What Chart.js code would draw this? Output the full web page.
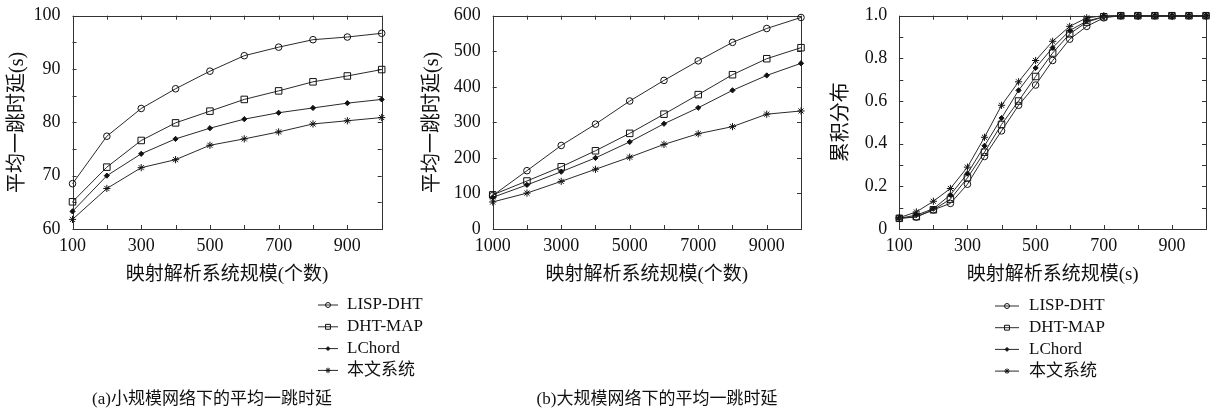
<!DOCTYPE html>
<html>
<head>
<meta charset="utf-8">
<script src="https://cdn.jsdelivr.net/npm/chart.js@4.4.1/dist/chart.umd.min.js"></script>
<style>
body { margin: 0; background: #fff; width: 1212px; height: 411px; position: relative; overflow: hidden; }
canvas { position: absolute; top: 0; }
</style>
</head>
<body>
<canvas id="chart-small" width="425" height="411" style="left:0px"></canvas>
<canvas id="chart-large" width="406" height="411" style="left:415px"></canvas>
<canvas id="chart-cdf" width="388" height="411" style="left:824px"></canvas>
<script>
var FONT = "'Liberation Serif', 'Noto Sans CJK SC', serif";

var seriesNames = ["LISP-DHT", "DHT-MAP", "LChord", "本文系统"];

// (a) small networks
var smallX = [100, 200, 300, 400, 500, 600, 700, 800, 900, 1000];
var smallLisp = [68.5, 77.4, 82.6, 86.3, 89.6, 92.5, 94.1, 95.5, 96.0, 96.7];
var smallMap = [65.1, 71.6, 76.6, 79.9, 82.1, 84.3, 85.9, 87.6, 88.7, 89.9];
var smallLchord = [63.3, 70.0, 74.1, 76.9, 78.9, 80.6, 81.8, 82.7, 83.6, 84.3];
var smallOurs = [61.8, 67.6, 71.5, 73.0, 75.7, 76.9, 78.2, 79.7, 80.3, 80.9];

// (b) large networks
var largeX = [1000, 2000, 3000, 4000, 5000, 6000, 7000, 8000, 9000, 10000];
var largeLisp = [94, 164, 235, 295, 360, 418, 473, 525, 564, 595];
var largeMap = [96, 135, 175, 220, 269, 323, 378, 434, 479, 510];
var largeLchord = [89, 124, 161, 200, 245, 296, 341, 390, 432, 466];
var largeOurs = [76, 101, 134, 168, 202, 238, 268, 288, 323, 332];

// cumulative distribution
var cdfX = [100, 150, 200, 250, 300, 350, 400, 450, 500, 550, 600, 650, 700, 750, 800, 850, 900, 950, 1000];
var cdfLisp = [0.05, 0.056, 0.09, 0.12, 0.21, 0.34, 0.46, 0.58, 0.675, 0.79, 0.89, 0.95, 0.99, 1, 1, 1, 1, 1, 1];
var cdfMap = [0.05, 0.058, 0.09, 0.14, 0.24, 0.36, 0.49, 0.60, 0.715, 0.825, 0.915, 0.97, 0.995, 1, 1, 1, 1, 1, 1];
var cdfLchord = [0.05, 0.065, 0.095, 0.16, 0.26, 0.39, 0.52, 0.65, 0.755, 0.85, 0.93, 0.975, 0.995, 1, 1, 1, 1, 1, 1];
var cdfOurs = [0.053, 0.08, 0.13, 0.19, 0.29, 0.43, 0.58, 0.69, 0.79, 0.88, 0.95, 0.99, 1, 1, 1, 1, 1, 1, 1];

var markerStyles = [
	{ pointStyle: "circle", radius: 3.3, fill: "rgba(0,0,0,0)" },
	{ pointStyle: "rect", radius: 4.6, fill: "rgba(0,0,0,0)" },
	{ pointStyle: "rectRot", radius: 2.6, fill: "#111" },
	{ pointStyle: "star", radius: 3.6, fill: "#111" }
];

Chart.defaults.font.family = FONT;
Chart.defaults.color = "#111";

function buildDatasets(xs, seriesList) {
	var datasets = [];
	for(let i = 0; i < seriesList.length; i++) {
		var points = [];
		for(let j = 0; j < xs.length; j++)
			points.push({ x: xs[j], y: seriesList[i][j] });
		datasets.push({
			label: seriesNames[i],
			data: points,
			borderColor: "#2a2a2a",
			borderWidth: 1,
			pointStyle: markerStyles[i].pointStyle,
			pointRadius: markerStyles[i].radius,
			pointBackgroundColor: markerStyles[i].fill,
			pointBorderColor: "#111",
			pointBorderWidth: 1,
			tension: 0,
			clip: false
		});
	}
	return datasets;
}

var framePlugin = {
	id: "frame",
	beforeDatasetsDraw: function(chart) {
		var ctx = chart.ctx, area = chart.chartArea;
		var xScale = chart.scales.x, yScale = chart.scales.y;
		ctx.save();
		ctx.strokeStyle = "#333";
		ctx.lineWidth = 1;
		ctx.strokeRect(Math.round(area.left) + 0.5, Math.round(area.top) + 0.5, Math.round(area.right - area.left), Math.round(area.bottom - area.top));
		ctx.beginPath();
		xScale.ticks.forEach(function(t) {
			var px = Math.round(xScale.getPixelForValue(t.value)) + 0.5;
			ctx.moveTo(px, area.bottom); ctx.lineTo(px, area.bottom - 4);
			ctx.moveTo(px, area.top); ctx.lineTo(px, area.top + 4);
		});
		yScale.ticks.forEach(function(t) {
			var py = Math.round(yScale.getPixelForValue(t.value)) + 0.5;
			ctx.moveTo(area.left, py); ctx.lineTo(area.left + 4, py);
			ctx.moveTo(area.right, py); ctx.lineTo(area.right - 4, py);
		});
		ctx.stroke();
		ctx.restore();
	},
	afterDraw: function(chart, args, opts) {
		var ctx = chart.ctx;
		ctx.save();
		if(opts.legend) {
			var L = opts.legend;
			ctx.font = "17px " + FONT;
			ctx.textBaseline = "middle";
			ctx.textAlign = "left";
			chart.data.datasets.forEach(function(ds, i) {
				var y = L.y + i * L.dy;
				ctx.strokeStyle = ds.borderColor;
				ctx.lineWidth = ds.borderWidth;
				ctx.beginPath();
				ctx.moveTo(L.x, y);
				ctx.lineTo(L.x + L.len, y);
				ctx.stroke();
				ctx.fillStyle = ds.pointBackgroundColor;
				ctx.strokeStyle = ds.pointBorderColor;
				ctx.lineWidth = 1;
				Chart.helpers.drawPoint(ctx, { pointStyle: ds.pointStyle, radius: ds.pointRadius * 0.75, rotation: 0, borderWidth: 1 }, L.x + L.len / 2, y);
				ctx.fillStyle = "#111";
				ctx.fillText(ds.label, L.x + L.len + L.gap, y);
			});
		}
		if(opts.caption) {
			ctx.font = "17px " + FONT;
			ctx.textBaseline = "middle";
			ctx.textAlign = "center";
			ctx.fillStyle = "#111";
			ctx.fillText(opts.caption.text, opts.caption.x, opts.caption.y);
		}
		ctx.restore();
	}
};

function makeChart(canvasId, cfg) {
	return new Chart(document.getElementById(canvasId), {
		type: "line",
		data: { datasets: cfg.datasets },
		options: {
			responsive: false,
			animation: false,
			devicePixelRatio: 1,
			layout: {
				padding: { left: cfg.padLeft, top: 15.7, right: cfg.padRight, bottom: 411 - 229 - 61.4 }
			},
			plugins: {
				legend: { display: false },
				tooltip: { enabled: false },
				frame: { legend: cfg.legend, caption: cfg.caption }
			},
			scales: {
				x: {
					type: "linear",
					min: cfg.xMin,
					max: cfg.xMax,
					grid: { display: false, drawTicks: false },
					border: { display: false },
					ticks: { stepSize: cfg.xStep, autoSkip: false, maxRotation: 0, padding: 6, font: { size: 18 }, callback: cfg.xLabel },
					title: { display: true, text: cfg.xTitle, font: { size: 19 }, padding: { top: 4, bottom: 4 } },
					afterFit: function(scale) { scale.height = 61.4; }
				},
				y: {
					type: "linear",
					min: cfg.yMin,
					max: cfg.yMax,
					grid: { display: false, drawTicks: false },
					border: { display: false },
					ticks: { stepSize: cfg.yStep, autoSkip: false, padding: 12, font: { size: 18 }, callback: cfg.yLabel },
					title: { display: true, text: cfg.yTitle, font: { size: 20 }, padding: { top: 4, bottom: 4 } },
					afterFit: function(scale) {
						scale.width = cfg.yWidth;
						scale.paddingTop = 0;
						scale.paddingBottom = 0;
					}
				}
			}
		},
		plugins: [framePlugin]
	});
}

window.onload = function() {
	makeChart("chart-small", {
		datasets: buildDatasets(smallX, [smallLisp, smallMap, smallLchord, smallOurs]),
		padLeft: 1.5, padRight: 425 - 381.7, yWidth: 71,
		xMin: 100, xMax: 1000, xStep: 100,
		yMin: 60, yMax: 100, yStep: 5,
		xLabel: function(v) { return ((v - 100) % 200 === 0 && v < 1000) ? v : ""; },
		yLabel: function(v) { return v % 10 === 0 ? v : ""; },
		xTitle: "映射解析系统规模(个数)",
		yTitle: "平均一跳时延(s)",
		legend: { x: 318, y: 305, dy: 21.8, len: 20, gap: 9 },
		caption: { text: "(a)小规模网络下的平均一跳时延", x: 212, y: 400 }
	});

	makeChart("chart-large", {
		datasets: buildDatasets(largeX, [largeLisp, largeMap, largeLchord, largeOurs]),
		padLeft: 2, padRight: 20, yWidth: 75.7,
		xMin: 1000, xMax: 10000, xStep: 1000,
		yMin: 0, yMax: 600, yStep: 100,
		xLabel: function(v) { return ((v - 1000) % 2000 === 0 && v < 10000) ? v : ""; },
		yLabel: function(v) { return v; },
		xTitle: "映射解析系统规模(个数)",
		yTitle: "平均一跳时延(s)",
		caption: { text: "(b)大规模网络下的平均一跳时延", x: 657 - 415, y: 400 }
	});

	makeChart("chart-cdf", {
		datasets: buildDatasets(cdfX, [cdfLisp, cdfMap, cdfLchord, cdfOurs]),
		padLeft: 1.7, padRight: 4.3, yWidth: 73.6,
		xMin: 100, xMax: 1000, xStep: 100,
		yMin: 0, yMax: 1, yStep: 0.1,
		xLabel: function(v) { return ((v - 100) % 200 === 0 && v < 1000) ? v : ""; },
		yLabel: function(v) {
			var k = Math.round(v * 10);
			if(k % 2 !== 0) return "";
			return k === 0 ? "0" : (k / 10).toFixed(1);
		},
		xTitle: "映射解析系统规模(s)",
		yTitle: "累积分布",
		legend: { x: 995 - 824, y: 306, dy: 21.7, len: 24, gap: 10 }
	});
};
</script>
</body>
</html>
